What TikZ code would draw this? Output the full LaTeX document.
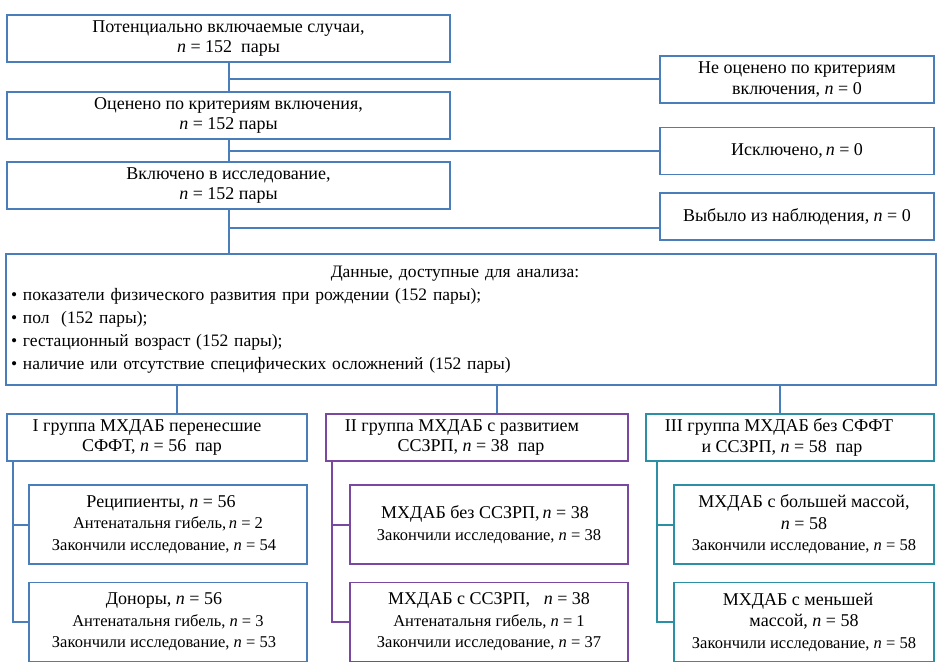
\documentclass[tikz,border=0pt]{standalone}
\usepackage{fontspec}
\setmainfont{Liberation Serif}
\usetikzlibrary{calc}
\definecolor{cblue}{HTML}{4A7EBB}
\definecolor{cpurp}{HTML}{7B48A0}
\definecolor{cteal}{HTML}{2B8FA6}
\newcommand{\lgline}[1]{{\fontsize{18}{21}\selectfont #1}}
\begin{document}
\begin{tikzpicture}[x=1pt,y=-1pt,
  box/.style={draw=cblue, line width=1.5pt, fill=white, inner sep=2pt, align=center,
    font=\fontsize{18}{20.5}\selectfont},
  topbox/.style={box, minimum width=443pt, minimum height=47pt},
  exbox/.style={box, minimum width=274pt, minimum height=47pt},
  grpbox/.style={box, minimum height=47pt},
  subbox/.style={box, minimum height=79pt, font=\fontsize{16.5}{21.5}\selectfont},
  link/.style={draw=cblue, line width=2pt},
  purp/.style={draw=cpurp},
  teal/.style={draw=cteal}]
\fill[white] (0,0) rectangle (945,667);
\useasboundingbox (0,0) rectangle (945,667);
% top column
\node[topbox] (b1) at (228.5,38.5) {Потенциально включаемые случаи,\\ \textit{n} = 152~ пары};
\node[topbox] (b2) at (228.5,115.5) {Оценено по критериям включения,\\ \textit{n} = 152 пары};
\node[topbox] (b3) at (228.5,185.5) {Включено в исследование,\\ \textit{n} = 152 пары};
% exclusion boxes
\node[exbox] (e1) at (797,79.5) {Не оценено по критериям\\ включения, \textit{n} = 0};
\node[exbox] (e2) at (797,151) {Исключено,\,\textit{n} = 0};
\node[exbox] (e3) at (797,216.5) {Выбыло из наблюдения, \textit{n} = 0};
% data box
\node[box, minimum width=930pt, minimum height=131pt, align=left, text width=920pt,
  font=\fontsize{17.5}{23}\selectfont] (d) at (471,319.5)
  {\makebox[888pt]{Данные, доступные для анализа:}\\
   • показатели физического развития при рождении (152 пары);\\
   • пол~ (152 пары);\\
   • гестационный возраст (152 пары);\\
   • наличие или отсутствие специфических осложнений (152 пары)};
% groups
\node[grpbox, minimum width=300pt] (g1) at (157,437.5) {I группа МХДАБ перенесшие\hspace*{20pt}\\ СФФТ, \textit{n} = 56~ пар\hspace*{10pt}};
\node[grpbox, purp, minimum width=302pt] (g2) at (477,437.5) {II группа МХДАБ с развитием\hspace*{30pt}\\ ССЗРП, \textit{n} = 38~ пар\hspace*{12pt}};
\node[grpbox, teal, minimum width=288pt] (g3) at (790,437.5) {III группа МХДАБ без СФФТ\hspace*{22pt}\\ и ССЗРП, \textit{n} = 58~ пар\hspace*{16pt}};
% sub boxes
\node[subbox, minimum width=278pt] (s1a) at (168,524.5) {\lgline{Реципиенты, \textit{n} = 56}\hspace*{14pt}\\ Антенатальня гибель,\,\textit{n} = 2\hspace*{8pt}\\ Закончили исследование, \textit{n} = 54\hspace*{8pt}};
\node[subbox, minimum width=278pt] (s1b) at (168,622) {\lgline{Доноры, \textit{n} = 56}\hspace*{8pt}\\ Антенатальня гибель, \textit{n} = 3\hspace*{8pt}\\ Закончили исследование, \textit{n} = 53\hspace*{8pt}};
\node[subbox, purp, minimum width=278pt] (s2a) at (489,524.5) {\lgline{МХДАБ без ССЗРП,\,\textit{n} = 38}\hspace*{8pt}\\ Закончили исследование, \textit{n} = 38};
\node[subbox, purp, minimum width=278pt] (s2b) at (489,622) {\lgline{МХДАБ с ССЗРП,~~ \textit{n} = 38}\\ Антенатальня гибель, \textit{n} = 1\\ Закончили исследование, \textit{n} = 37};
\node[subbox, teal, minimum width=260pt] (s3a) at (804,524.5) {\lgline{МХДАБ с большей массой,}\\ \lgline{\textit{n} = 58}\\ Закончили исследование, \textit{n} = 58};
\node[subbox, teal, minimum width=260pt] (s3b) at (804,622) {\lgline{МХДАБ с меньшей}\hspace*{12pt}\\ \lgline{массой, \textit{n} = 58}\\ Закончили исследование, \textit{n} = 58};
% junction coordinates
\coordinate (j1) at (229,79);
\coordinate (j2) at (229,151);
\coordinate (j3) at (229,228);
\coordinate (c1) at (177,0);
\coordinate (c2) at (497,0);
\coordinate (c3) at (780,0);
\coordinate (k1) at (13,0);
\coordinate (k2) at (332,0);
\coordinate (k3) at (657,0);
% connectors
\draw[link] (b1.south) -- (b2.north);
\draw[link] (b2.south) -- (b3.north);
\draw[link] (b3.south) -- (d.north -| b3.south);
\draw[link] (j1) -- (e1.west |- j1);
\draw[link] (j2) -- (e2.west |- j2);
\draw[link] (j3) -- (e3.west |- j3);
\draw[link] (d.south -| c1) -- (g1.north -| c1);
\draw[link] (d.south -| c2) -- (g2.north -| c2);
\draw[link] (d.south -| c3) -- (g3.north -| c3);
\draw[link] (g1.south -| k1) |- (s1b.west);
\draw[link] (k1 |- s1a.west) -- (s1a.west);
\draw[link, purp] (g2.south -| k2) |- (s2b.west);
\draw[link, purp] (k2 |- s2a.west) -- (s2a.west);
\draw[link, teal] (g3.south -| k3) |- (s3b.west);
\draw[link, teal] (k3 |- s3a.west) -- (s3a.west);
\end{tikzpicture}
\end{document}
